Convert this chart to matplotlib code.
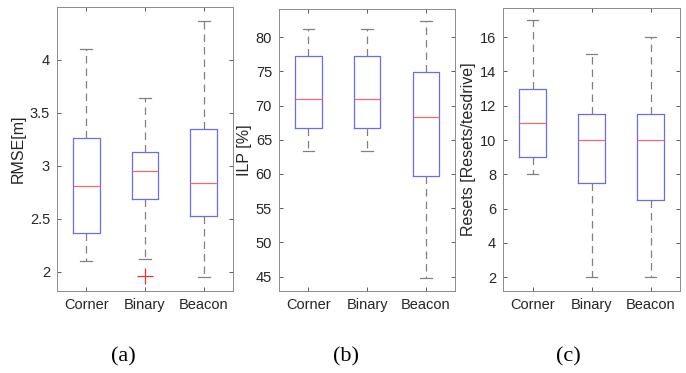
import matplotlib
matplotlib.use("Agg")
import matplotlib.pyplot as plt

categories = ["Corner", "Binary", "Beacon"]

# (a) RMSE [m]: whisker low, Q1, median, Q3, whisker high
rmse_wlo = [2.10, 2.12, 1.95]
rmse_q1 = [2.37, 2.69, 2.53]
rmse_med = [2.81, 2.95, 2.84]
rmse_q3 = [3.26, 3.13, 3.345]
rmse_whi = [4.10, 3.64, 4.37]
rmse_out = [[], [1.96], []]

# (b) ILP [%]
ilp_wlo = [63.4, 63.4, 44.85]
ilp_q1 = [66.7, 66.7, 59.7]
ilp_med = [70.9, 70.9, 68.3]
ilp_q3 = [77.2, 77.2, 74.9]
ilp_whi = [81.2, 81.2, 82.4]
ilp_out = [[], [], []]

# (c) Resets
res_wlo = [8, 2, 2]
res_q1 = [9, 7.5, 6.5]
res_med = [11, 10, 10]
res_q3 = [13, 11.5, 11.5]
res_whi = [17, 15, 16]
res_out = [[], [], []]

plt.rcParams['font.family'] = ['Liberation Sans', 'DejaVu Sans']

W, H = 686, 373
fig = plt.figure(figsize=(W / 100, H / 100), dpi=100)

def px_axes(left, right, top, bottom):
    return fig.add_axes([left / W, 1 - bottom / H, (right - left) / W, (bottom - top) / H])

def panel(ax, wlo, q1, med, q3, whi, out, ylim, yticks, yticklabels, ylabel):
    stats = []
    for i, c in enumerate(categories):
        stats.append(dict(label=c, whislo=wlo[i], q1=q1[i], med=med[i], q3=q3[i],
                          whishi=whi[i], fliers=out[i]))
    ax.bxp(stats, positions=[1, 2, 3], widths=0.45, capwidths=0.2,
           boxprops=dict(color='#6b6bf0', linewidth=0.9),
           medianprops=dict(color='#f06b6b', linewidth=0.9),
           whiskerprops=dict(color='#808080', linewidth=0.9, linestyle=(0, (6, 4))),
           capprops=dict(color='#808080', linewidth=0.9),
           flierprops=dict(marker='+', markeredgecolor='#ee3333', markersize=11,
                           markeredgewidth=0.9, linestyle='none'))
    ax.set_xlim(0.5, 3.5)
    ax.set_ylim(*ylim)
    ax.set_yticks(yticks)
    ax.set_yticklabels(yticklabels)
    ax.set_xticks([1, 2, 3])
    ax.set_xticklabels(categories)
    ax.tick_params(direction='in', top=True, right=True, length=3, width=0.6,
                   color='#404040', labelsize=10.5, labelcolor='#262626', pad=5)
    ax.tick_params(axis='x', pad=5)
    for s in ax.spines.values():
        s.set_color('#8a8a8a')
        s.set_linewidth(0.7)
    ax.set_ylabel(ylabel, fontsize=11.5, color='#262626', labelpad=3)

ax1 = px_axes(57, 233, 7, 291)
panel(ax1, rmse_wlo, rmse_q1, rmse_med, rmse_q3, rmse_whi, rmse_out,
      (1.82, 4.5), [2, 2.5, 3, 3.5, 4], ['2', '2.5', '3', '3.5', '4'], 'RMSE[m]')

ax2 = px_axes(279, 455.4, 9, 291)
panel(ax2, ilp_wlo, ilp_q1, ilp_med, ilp_q3, ilp_whi, ilp_out,
      (42.9, 84.1), [45, 50, 55, 60, 65, 70, 75, 80],
      ['45', '50', '55', '60', '65', '70', '75', '80'], 'ILP [%]')

ax3 = px_axes(503, 680, 8, 291)
panel(ax3, res_wlo, res_q1, res_med, res_q3, res_whi, res_out,
      (1.2, 17.7), [2, 4, 6, 8, 10, 12, 14, 16],
      ['2', '4', '6', '8', '10', '12', '14', '16'], 'Resets [Resets/tesdrive]')

for lab, xc in [('(a)', 123), ('(b)', 346), ('(c)', 568)]:
    fig.text(xc / W, 1 - 357 / H, lab, ha='center', va='center',
             fontsize=16, family=['Liberation Serif', 'DejaVu Serif'], color='black')

fig.savefig('out.png', dpi=100, facecolor='white')
